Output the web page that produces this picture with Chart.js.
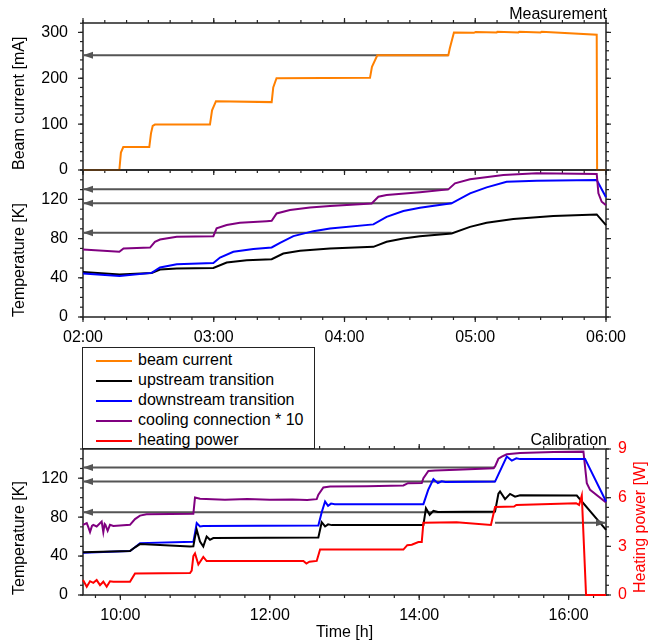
<!DOCTYPE html>
<html>
<head>
<meta charset="utf-8">
<script src="https://cdn.jsdelivr.net/npm/chart.js@4.4.1/dist/chart.umd.min.js"></script>
<style>
  body { margin: 0; background: #fff; }
  #wrap { position: relative; width: 650px; height: 644px; font-family: "Liberation Sans", Arial, sans-serif; }
  #wrap canvas { position: absolute; left: 0; }
  #legend { position: absolute; left: 82px; top: 347px; width: 233px; height: 102px; box-sizing: border-box;
            border: 1.5px solid #222; background: #fff; z-index: 5; }
  .row { position: absolute; left: 13px; height: 20px; line-height: 20px; font-size: 16px; white-space: nowrap; }
  .sw { display: inline-block; width: 36px; height: 2px; vertical-align: middle; margin-right: 6px; }
</style>
</head>
<body>
<div id="wrap">
  <canvas id="cTop" width="650" height="180" style="top:0px"></canvas>
  <canvas id="cMid" width="650" height="190" style="top:165px"></canvas>
  <canvas id="cBot" width="650" height="219" style="top:425px"></canvas>
  <div id="legend"></div>
</div>
<script>
// ---- data (time in hours) ----
const seriesNames = ['beam current', 'upstream transition', 'downstream transition', 'cooling connection * 10', 'heating power'];
const seriesColors = ['#ff8000', '#000000', '#0000ff', '#800080', '#ff0000'];

// Measurement: beam current [mA]
const beamTime = [2.0, 2.278, 2.29, 2.308, 2.507, 2.52, 2.533, 2.55, 2.971, 2.987, 3.017, 3.443, 3.455, 3.48, 4.195, 4.21, 4.251, 4.794, 4.805, 4.837, 4.99, 5.003, 5.164, 5.169, 5.33, 5.337, 5.50, 5.508, 5.929, 5.932, 6.0];
const beamCur = [0, 0, 38, 50, 50, 80, 96, 99, 99, 130, 150, 148, 180, 200, 201, 225, 250, 250, 265, 300, 299, 301, 300, 301.5, 300, 301.5, 300, 301.5, 295, 0, 0];

// Measurement: temperatures [K]
const upTimeM = [2.0, 2.28, 2.525, 2.589, 2.717, 2.997, 3.099, 3.252, 3.443, 3.532, 3.66, 3.889, 4.221, 4.322, 4.45, 4.577, 4.819, 4.96, 5.087, 5.291, 5.597, 5.929, 6.0];
const upTempM = [46, 43.4, 45, 48.5, 49.5, 50.1, 55.6, 58, 59, 64.8, 67.5, 69.9, 71.6, 76.7, 80.2, 82.5, 85.3, 92, 96.1, 99.9, 103, 104.7, 93.8];
const dnTimeM = [2.0, 2.28, 2.525, 2.589, 2.717, 2.997, 3.048, 3.15, 3.303, 3.443, 3.507, 3.609, 3.762, 3.889, 4.221, 4.322, 4.45, 4.577, 4.819, 4.96, 5.087, 5.24, 5.47, 5.929, 6.0];
const dnTempM = [44.4, 41.9, 45, 50.5, 53.9, 55.2, 60.7, 66.5, 69.5, 71, 75.7, 82.5, 87.6, 90.4, 94.5, 102.2, 108.1, 111.5, 116, 126.2, 132.3, 138, 139.1, 139.8, 122.1];
const coTimeM = [2.0, 2.278, 2.31, 2.513, 2.55, 2.589, 2.717, 2.997, 3.022, 3.099, 3.2, 3.405, 3.443, 3.481, 3.583, 3.736, 3.889, 4.208, 4.259, 4.322, 4.577, 4.794, 4.845, 4.96, 5.215, 5.47, 5.929, 5.942, 5.967, 6.0];
const coTempM = [68.9, 66.5, 70, 70.8, 76.7, 79.1, 81.8, 82.5, 90.4, 93.8, 96.1, 97.8, 98.2, 105.7, 109.1, 111.8, 113.2, 115.9, 122.7, 124.4, 127.2, 130.2, 136.4, 140.5, 144.9, 146.6, 146, 126.2, 117.6, 114.2];

// Calibration: temperatures [K]
const upTimeC = [9.5, 10.129, 10.196, 10.263, 10.932, 10.977, 11.0, 11.022, 11.066, 11.11, 11.155, 11.2, 11.244, 12.65, 12.695, 12.74, 12.78, 12.83, 14.056, 14.09, 14.14, 14.19, 14.25, 15.015, 15.06, 15.082, 15.149, 15.216, 15.283, 15.35, 16.109, 16.501];
const upTempC = [43.8, 45.2, 49, 52.3, 49.9, 50, 60, 67, 55, 49.9, 60.1, 56.7, 58.5, 59.1, 74.8, 70.4, 72.6, 71.8, 71.8, 89.2, 82.4, 86.5, 85.2, 85.7, 104, 106.3, 98.5, 103.9, 101.1, 102.4, 102.2, 67];
const dnTimeC = [9.5, 10.129, 10.196, 10.263, 10.977, 11.0, 11.022, 11.066, 11.11, 12.65, 12.695, 12.74, 12.78, 12.82, 12.87, 14.056, 14.12, 14.19, 14.25, 14.3, 14.35, 15.015, 15.172, 15.239, 15.3, 15.35, 16.22, 16.501];
const dnTempC = [43.5, 45.2, 49, 53.3, 54.6, 64, 73.8, 70.4, 71, 71.4, 85, 96, 91.6, 93.9, 93.3, 93.3, 108, 119, 114.9, 116.8, 116.2, 116.5, 142.2, 138.1, 140.5, 139.6, 139.8, 96];
const coTimeC = [9.5, 9.55, 9.57, 9.594, 9.62, 9.638, 9.683, 9.75, 9.772, 9.79, 9.8, 9.83, 9.861, 9.906, 10.129, 10.196, 10.263, 10.35, 10.977, 10.999, 11.066, 11.4, 11.7, 12.0, 12.3, 12.5, 12.628, 12.65, 12.717, 12.807, 13.3, 13.788, 13.85, 14.034, 14.056, 14.123, 14.212, 14.5, 14.993, 15.015, 15.06, 15.105, 15.172, 15.35, 15.8, 16.198, 16.243, 16.287, 16.501];
const coTempC = [72.1, 73.8, 70, 64.6, 71, 72.1, 70.4, 75.5, 64.6, 73, 72.1, 66, 72.1, 71, 72.1, 78, 81.6, 83, 83.5, 100.1, 98.8, 97.8, 98.6, 97.9, 98.2, 97.5, 98.5, 103, 110.4, 111.4, 111.8, 112.5, 114.9, 115, 120, 127.5, 128, 128.8, 130.2, 132, 140, 142.2, 144.6, 146, 146.8, 147.3, 114.9, 108, 95];

// Calibration: heating power [W]
const heatTime = [9.5, 9.55, 9.594, 9.638, 9.683, 9.728, 9.772, 9.817, 9.861, 9.906, 10.129, 10.196, 10.932, 10.955, 10.977, 10.999, 11.044, 11.11, 11.155, 11.2, 12.45, 12.49, 12.53, 12.628, 12.673, 13.788, 13.84, 13.9, 13.989, 14.034, 14.056, 14.5, 14.96, 15.015, 15.27, 15.3, 16.1, 16.14, 16.176, 16.233, 16.501];
const heatPow = [0.92, 0.51, 0.85, 0.75, 0.92, 0.61, 0.82, 0.51, 0.85, 0.82, 0.82, 1.33, 1.35, 1.5, 2.4, 2.56, 1.88, 2.35, 2.09, 2.1, 2.09, 1.94, 2.05, 2.1, 2.8, 2.8, 3.07, 3.1, 3.27, 3.27, 4.46, 4.48, 4.32, 5.42, 5.45, 5.55, 5.66, 5.55, 6.13, 0, 0];

// reference arrows: level and time span
const beamArrow = { level: 250, from: 2.0, to: 4.794 };
const tempArrowsM = [{ level: 130.3, from: 2.0, to: 4.794 }, { level: 116, from: 2.0, to: 4.819 }, { level: 85.9, from: 2.0, to: 4.819 }];
const tempArrowsC = [{ level: 130.9, from: 9.5, to: 15.015 }, { level: 116.5, from: 9.5, to: 15.015 }, { level: 85.1, from: 9.5, to: 15.015 }];
const powerArrow = { level: 4.45, from: 15.015, to: 16.5 };

// ---- helpers ----
const FONT = '"Liberation Sans", Arial, sans-serif';
Chart.defaults.font.family = FONT;
Chart.defaults.font.size = 16;
Chart.defaults.color = '#000';

const pts = (xs, ys) => xs.map((x, i) => ({ x: x, y: ys[i] }));

function line(xs, ys, idx, axis) {
    return {
        data: pts(xs, ys),
        borderColor: seriesColors[idx],
        borderWidth: 2,
        pointRadius: 0,
        tension: 0,
        clip: 2,
        yAxisID: axis || 'y'
    };
}

function arrow(a, head, axis) {
    return {
        data: [{ x: a.from, y: a.level }, { x: a.to, y: a.level }],
        borderColor: '#555',
        borderWidth: 2,
        pointRadius: 0,
        arrow: head,
        yAxisID: axis || 'y'
    };
}

function hhmm(v) {
    const h = Math.floor(v + 1e-6);
    const m = Math.round((v - h) * 60);
    return String(h).padStart(2, '0') + ':' + String(m).padStart(2, '0');
}

// fixed axis box sizes, no extra label padding in the layout
function fixWidth(w) {
    return s => { s.width = w; s.paddingTop = 0; s.paddingBottom = 0; };
}
function fixHeight(h) {
    return s => { s.height = h; s.paddingLeft = 0; s.paddingRight = 0; };
}

// frame + tick marks under the data, arrow heads and titles over it
const framePlugin = {
    id: 'frame',
    beforeDatasetsDraw(chart, args, opts) {
        const ctx = chart.ctx;
        const a = chart.chartArea;
        ctx.save();
        ctx.strokeStyle = '#222';
        ctx.lineWidth = 1.5;
        ctx.strokeRect(a.left, a.top, a.right - a.left, a.bottom - a.top);

        ctx.lineWidth = 1.2;
        (opts.ticks || []).forEach(t => {
            const s = chart.scales[t.scale];
            for (let k = Math.ceil(s.min / t.step - 1e-6); k * t.step <= s.max + 1e-6; k++) {
                const p = s.getPixelForValue(k * t.step);
                ctx.beginPath();
                if (t.edge === 'left') { ctx.moveTo(a.left, p); ctx.lineTo(a.left - t.len, p); }
                if (t.edge === 'right') { ctx.moveTo(a.right, p); ctx.lineTo(a.right + t.len, p); }
                if (t.edge === 'bottom') { ctx.moveTo(p, a.bottom); ctx.lineTo(p, a.bottom + t.len); }
                if (t.edge === 'top') { ctx.moveTo(p, a.top); ctx.lineTo(p, a.top - t.len); }
                ctx.stroke();
            }
        });
        ctx.restore();
    },
    afterDatasetsDraw(chart, args, opts) {
        const ctx = chart.ctx;
        const a = chart.chartArea;
        ctx.save();
        chart.data.datasets.forEach((ds, i) => {
            if (!ds.arrow) return;
            const els = chart.getDatasetMeta(i).data;
            const tip = ds.arrow === 'start' ? els[0] : els[els.length - 1];
            const dir = ds.arrow === 'start' ? 1 : -1;
            ctx.fillStyle = ds.borderColor;
            ctx.beginPath();
            ctx.moveTo(tip.x, tip.y);
            ctx.lineTo(tip.x + dir * 10, tip.y - 3.5);
            ctx.lineTo(tip.x + dir * 10, tip.y + 3.5);
            ctx.closePath();
            ctx.fill();
        });

        ctx.font = '16px ' + FONT;
        if (opts.title) {
            ctx.fillStyle = '#000';
            ctx.textAlign = 'right';
            ctx.textBaseline = 'alphabetic';
            ctx.fillText(opts.title, a.right + 1, a.top - 4);
        }
        if (opts.rightTitle) {
            ctx.fillStyle = opts.rightTitle.color;
            ctx.translate(opts.rightTitle.x, a.bottom - 2);
            ctx.rotate(-Math.PI / 2);
            ctx.textAlign = 'left';
            ctx.textBaseline = 'middle';
            ctx.fillText(opts.rightTitle.text, 0, 0);
        }
        ctx.restore();
    }
};

const noGrid = { display: false, drawTicks: false };
const noBorder = { display: false };
const leftTitle = text => ({ display: true, text: text, align: 'start', padding: { top: 10, bottom: 0 } });

// ---- top: beam current ----
new Chart(document.getElementById('cTop'), {
    type: 'line',
    data: { datasets: [line(beamTime, beamCur, 0), arrow(beamArrow, 'start')] },
    options: {
        responsive: false,
        animation: false,
        layout: { padding: { top: 23, right: 44, bottom: 10, left: 0 } },
        plugins: {
            legend: { display: false },
            tooltip: { enabled: false },
            frame: {
                title: 'Measurement',
                ticks: [
                    { scale: 'y', edge: 'left', step: 100, len: 5 },
                    { scale: 'y', edge: 'left', step: 20, len: 3 },
                    { scale: 'y', edge: 'right', step: 100, len: 5 },
                    { scale: 'y', edge: 'right', step: 20, len: 3 },
                    { scale: 'x', edge: 'top', step: 1, len: 5 },
                    { scale: 'x', edge: 'top', step: 1 / 6, len: 3 },
                    { scale: 'x', edge: 'bottom', step: 1, len: 5 },
                    { scale: 'x', edge: 'bottom', step: 1 / 6, len: 3 }
                ]
            }
        },
        scales: {
            x: { type: 'linear', min: 2, max: 6, display: false },
            y: {
                min: 0, max: 320.5,
                ticks: { stepSize: 100, includeBounds: false, padding: 15 },
                grid: noGrid, border: noBorder,
                title: leftTitle('Beam current [mA]'),
                afterFit: fixWidth(83)
            }
        }
    },
    plugins: [framePlugin]
});

// ---- middle: measurement temperatures ----
new Chart(document.getElementById('cMid'), {
    type: 'line',
    data: {
        datasets: [
            line(coTimeM, coTempM, 3),
            line(dnTimeM, dnTempM, 2),
            line(upTimeM, upTempM, 1)
        ].concat(tempArrowsM.map(a => arrow(a, 'start')))
    },
    options: {
        responsive: false,
        animation: false,
        layout: { padding: { top: 5, right: 44, bottom: 0, left: 0 } },
        plugins: {
            legend: { display: false },
            tooltip: { enabled: false },
            frame: {
                ticks: [
                    { scale: 'y', edge: 'left', step: 40, len: 5 },
                    { scale: 'y', edge: 'left', step: 10, len: 3 },
                    { scale: 'y', edge: 'right', step: 40, len: 5 },
                    { scale: 'y', edge: 'right', step: 10, len: 3 },
                    { scale: 'x', edge: 'bottom', step: 1, len: 5 },
                    { scale: 'x', edge: 'bottom', step: 1 / 6, len: 3 }
                ]
            }
        },
        scales: {
            x: {
                type: 'linear', min: 2, max: 6,
                ticks: { stepSize: 1, includeBounds: false, autoSkip: false, maxRotation: 0, padding: 11, callback: hhmm },
                grid: noGrid, border: noBorder,
                afterFit: fixHeight(38)
            },
            y: {
                min: 0, max: 150,
                ticks: { stepSize: 40, includeBounds: false, padding: 15 },
                grid: noGrid, border: noBorder,
                title: leftTitle('Temperature [K]'),
                afterFit: fixWidth(83)
            }
        }
    },
    plugins: [framePlugin]
});

// ---- bottom: calibration ----
new Chart(document.getElementById('cBot'), {
    type: 'line',
    data: {
        datasets: [
            line(heatTime, heatPow, 4, 'y2'),
            line(upTimeC, upTempC, 1),
            line(dnTimeC, dnTempC, 2),
            line(coTimeC, coTempC, 3)
        ].concat(tempArrowsC.map(a => arrow(a, 'start')), [arrow(powerArrow, 'end', 'y2')])
    },
    options: {
        responsive: false,
        animation: false,
        layout: { padding: { top: 24, right: 0, bottom: 0, left: 0 } },
        plugins: {
            legend: { display: false },
            tooltip: { enabled: false },
            frame: {
                title: 'Calibration',
                rightTitle: { text: 'Heating power [W]', color: '#ff0000', x: 641 },
                ticks: [
                    { scale: 'y', edge: 'left', step: 40, len: 5 },
                    { scale: 'y', edge: 'left', step: 10, len: 3 },
                    { scale: 'y', edge: 'right', step: 10, len: 3 },
                    { scale: 'y2', edge: 'right', step: 3, len: 5 },
                    { scale: 'x', edge: 'bottom', step: 2, len: 5 },
                    { scale: 'x', edge: 'bottom', step: 1 / 3, len: 3 },
                    { scale: 'x', edge: 'top', step: 2, len: 5 },
                    { scale: 'x', edge: 'top', step: 1 / 3, len: 3 }
                ]
            }
        },
        scales: {
            x: {
                type: 'linear', min: 9.5, max: 16.5,
                ticks: { stepSize: 2, includeBounds: false, autoSkip: false, maxRotation: 0, padding: 11, callback: hhmm },
                grid: noGrid, border: noBorder,
                title: { display: true, text: 'Time [h]', padding: { top: 0, bottom: 1.5 } },
                afterFit: fixHeight(49)
            },
            y: {
                min: 0, max: 150,
                ticks: { stepSize: 40, includeBounds: false, padding: 15 },
                grid: noGrid, border: noBorder,
                title: leftTitle('Temperature [K]'),
                afterFit: fixWidth(83)
            },
            y2: {
                position: 'right',
                min: 0, max: 9,
                ticks: { stepSize: 3, includeBounds: false, padding: 12, color: '#ff0000' },
                grid: noGrid, border: noBorder,
                afterFit: fixWidth(44)
            }
        }
    },
    plugins: [framePlugin]
});

// ---- legend ----
const legend = document.getElementById('legend');
seriesNames.forEach((name, i) => {
    const row = document.createElement('div');
    row.className = 'row';
    row.style.top = (2 + i * 20) + 'px';
    row.innerHTML = '<span class="sw" style="background:' + seriesColors[i] + '"></span>' + name;
    legend.appendChild(row);
});
</script>
</body>
</html>
